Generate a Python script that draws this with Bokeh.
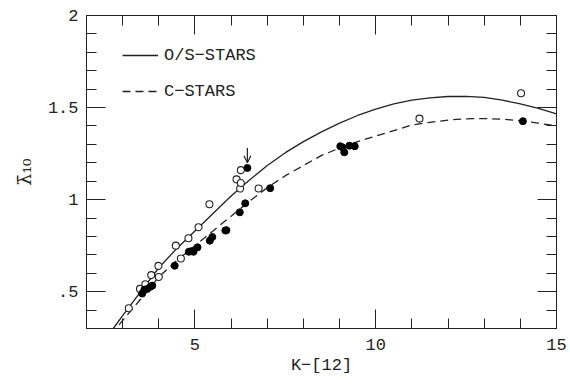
from bokeh.plotting import figure
from bokeh.models import (Range1d, FixedTicker, LinearAxis, Arrow, OpenHead, Legend, LegendItem,
                          CustomLabelingPolicy)
from bokeh.embed import file_html
from bokeh.resources import INLINE

# ---- data ----
os_curve_x = [2.74, 3.0, 3.5, 4.0, 4.5, 5.0, 5.5, 6.0, 6.5, 7.0, 7.5, 8.0, 8.5, 9.0, 9.5,
              10.0, 10.5, 11.0, 11.5, 12.0, 12.5, 13.0, 13.5, 14.0, 14.5, 15.0]
os_curve_y = [0.30, 0.37, 0.50, 0.63, 0.735, 0.83, 0.925, 1.02, 1.105, 1.185, 1.255, 1.315, 1.368, 1.415, 1.457,
              1.492, 1.52, 1.54, 1.553, 1.56, 1.561, 1.555, 1.54, 1.52, 1.496, 1.466]

c_curve_x = [2.9, 3.5, 4.0, 4.5, 5.0, 5.5, 6.0, 6.5, 7.0, 7.5, 8.0, 8.5, 9.0, 9.5,
             10.0, 10.5, 11.0, 11.5, 12.0, 12.5, 13.0, 13.5, 14.0, 14.5, 15.0]
c_curve_y = [0.32, 0.46, 0.58, 0.67, 0.75, 0.83, 0.91, 0.99, 1.065, 1.13, 1.185, 1.24, 1.28, 1.315,
             1.345, 1.375, 1.405, 1.42, 1.432, 1.439, 1.44, 1.437, 1.428, 1.415, 1.40]

open_x = [3.17, 3.48, 3.63, 3.79, 3.99, 4.0, 4.47, 4.61, 4.82, 5.10, 5.40, 6.15, 6.25, 6.27, 6.27, 6.76, 11.21, 14.02]
open_y = [0.41, 0.515, 0.54, 0.59, 0.64, 0.58, 0.75, 0.68, 0.79, 0.85, 0.975, 1.11, 1.06, 1.09, 1.16, 1.06, 1.44, 1.578]

filled_x = [3.54, 3.60, 3.68, 3.77, 3.82, 4.44, 4.83, 4.90, 4.96, 5.07, 5.41, 5.48, 5.84, 5.87,
            6.24, 6.39, 6.45, 7.08, 9.02, 9.08, 9.13, 9.27, 9.42, 14.07]
filled_y = [0.49, 0.51, 0.515, 0.527, 0.533, 0.641, 0.717, 0.72, 0.717, 0.741, 0.777, 0.797, 0.832, 0.834,
            0.931, 0.98, 1.172, 1.062, 1.29, 1.284, 1.257, 1.293, 1.29, 1.426]

arrow_x = 6.45
arrow_y_top = 1.28
arrow_y_tip = 1.20

x_major = [5, 10, 15]
x_minor = list(range(2, 16))
y_major = [0.5, 1.0, 1.5, 2.0]
y_labels = [".5", "1", "1.5", "2"]
y_minor = [round(0.3 + 0.1 * i, 1) for i in range(18)]

series_names = ["O/S\u2212STARS", "C\u2212STARS"]

FONT = "Liberation Mono"
INK = "#222222"

p = figure(width=568, height=380, output_backend="svg", toolbar_location=None,
           x_range=Range1d(2, 15), y_range=Range1d(0.3, 2.0),
           min_border_left=86, min_border_right=12, min_border_top=15, min_border_bottom=52)
p.grid.visible = False
p.outline_line_color = INK
p.background_fill_color = "white"

xt = FixedTicker(ticks=x_major, minor_ticks=x_minor)
yt = FixedTicker(ticks=y_major, minor_ticks=y_minor)

def style(ax, labels=True):
    ax.major_tick_in = 19
    ax.major_tick_out = 0
    ax.minor_tick_in = 10
    ax.minor_tick_out = 0
    ax.axis_line_color = INK
    ax.major_tick_line_color = INK
    ax.minor_tick_line_color = INK
    ax.major_label_text_font = FONT
    ax.major_label_text_font_size = "17px" if labels else "1px"
    ax.major_label_text_color = INK
    ax.axis_label_text_font = FONT
    ax.axis_label_text_font_size = "17px"
    ax.axis_label_text_font_style = "normal"
    ax.axis_label_text_color = INK
    if not labels:
        ax.major_label_standoff = 0
        ax.major_label_policy = CustomLabelingPolicy(
            code="for (const i of Array.from(indices)) { indices.unset(i) }\nreturn indices")

xa = p.xaxis[0]
xa.ticker = xt
xa.axis_label = "K\u2212[12]"
xa.major_label_standoff = 10
xa.axis_label_standoff = 3
style(xa)

ya = p.yaxis[0]
ya.ticker = yt
ya.major_label_overrides = {v: s for v, s in zip(y_major, y_labels)}
ya.axis_label = "\u03bb\u0304\u2081\u2080"
ya.major_label_standoff = 8
ya.axis_label_standoff = 10
style(ya)
ya.axis_label_text_font = "DejaVu Serif"
ya.axis_label_text_font_size = "19px"

top = LinearAxis(ticker=xt)
style(top, labels=False)
p.add_layout(top, "above")
right = LinearAxis(ticker=yt)
style(right, labels=False)
p.add_layout(right, "right")

r_os = p.line(os_curve_x, os_curve_y, line_color=INK, line_width=1.3)
r_c = p.line(c_curve_x, c_curve_y, line_color=INK, line_width=1.3, line_dash="8 5")

p.scatter(open_x, open_y, marker="circle", size=7, fill_color="white", line_color=INK, line_width=1.1)
p.scatter(filled_x, filled_y, marker="circle", size=7, fill_color="black", line_color="black")

p.add_layout(Arrow(end=OpenHead(size=7, line_color=INK, line_width=1.2), line_color=INK, line_width=1.2,
                   x_start=arrow_x, y_start=arrow_y_top, x_end=arrow_x, y_end=arrow_y_tip))

legend = Legend(items=[LegendItem(label=series_names[0], renderers=[r_os]),
                       LegendItem(label=series_names[1], renderers=[r_c])],
                location=(36, 226), padding=0, margin=0, spacing=14,
                glyph_width=36, glyph_height=22, label_standoff=6,
                label_text_font=FONT, label_text_font_size="17px", label_text_color=INK,
                border_line_color=None, background_fill_alpha=0)
p.add_layout(legend, "center")

open("out.html", "w").write(file_html(p, INLINE))
